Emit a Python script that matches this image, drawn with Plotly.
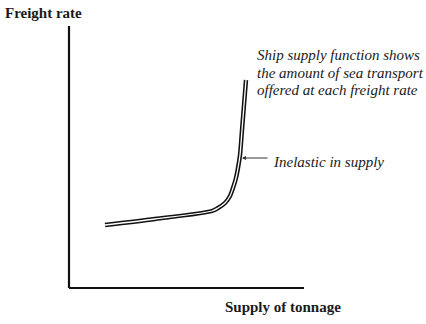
import plotly.graph_objects as go

# Ship supply curve: supply of tonnage vs freight rate (arbitrary units)
supply = [36, 86, 143, 149, 156, 161, 164, 167, 169, 171, 173, 175, 177]
freight_rate = [63, 69, 77, 80, 85, 92, 100, 110, 120, 133, 158, 183, 208]

note_lines = ["Ship supply function shows",
              "the amount of sea transport",
              "offered at each freight rate"]

x_axis_end = 235
y_axis_end = 262

fig = go.Figure()

# Double-line curve: thick black stroke with a thin white core
fig.add_trace(go.Scatter(x=supply, y=freight_rate, mode="lines",
                         line=dict(color="#111111", width=4.4, shape="spline", smoothing=0.8),
                         hoverinfo="skip"))
fig.add_trace(go.Scatter(x=supply, y=freight_rate, mode="lines",
                         line=dict(color="white", width=1.3, shape="spline", smoothing=0.8),
                         hoverinfo="skip"))

# Axes drawn as plain lines
fig.add_shape(type="line", x0=0, y0=0, x1=0, y1=y_axis_end,
              line=dict(color="#111111", width=2.2))
fig.add_shape(type="line", x0=0, y0=0, x1=x_axis_end, y1=0,
              line=dict(color="#111111", width=2.2))

serif = "Liberation Serif, Times New Roman, serif"

fig.add_annotation(x=-66, y=275, text="<b>Freight rate</b>", showarrow=False,
                   xanchor="left", yanchor="middle",
                   font=dict(family=serif, size=15, color="#1a1a1a"))
fig.add_annotation(x=154, y=-19, text="<b>Supply of tonnage</b>", showarrow=False,
                   xanchor="left", yanchor="middle",
                   font=dict(family=serif, size=15, color="#1a1a1a"))

# Three-line italic note, spaced line by line
for i, line in enumerate(note_lines):
    fig.add_annotation(x=186, y=233 - 17.5 * i, text=f"<i>{line}</i>",
                       showarrow=False, xanchor="left", yanchor="middle",
                       font=dict(family=serif, size=15, color="#1a1a1a"))

fig.add_annotation(x=202, y=126, text="<i>Inelastic in supply</i>", showarrow=False,
                   xanchor="left", yanchor="middle",
                   font=dict(family=serif, size=15, color="#1a1a1a"))
# Pointer arrow to the steep part of the curve
fig.add_annotation(x=173, y=130, ax=200, ay=130, xref="x", yref="y",
                   axref="x", ayref="y", text="", showarrow=True,
                   arrowhead=2, arrowsize=0.8, arrowwidth=1, arrowcolor="#333333")

fig.update_layout(
    width=426, height=324,
    margin=dict(l=0, r=0, t=0, b=0),
    paper_bgcolor="white", plot_bgcolor="white",
    showlegend=False,
    xaxis=dict(range=[-69, 357], visible=False, fixedrange=True),
    yaxis=dict(range=[-36, 288], visible=False, fixedrange=True),
)

fig.write_html("out.html")
